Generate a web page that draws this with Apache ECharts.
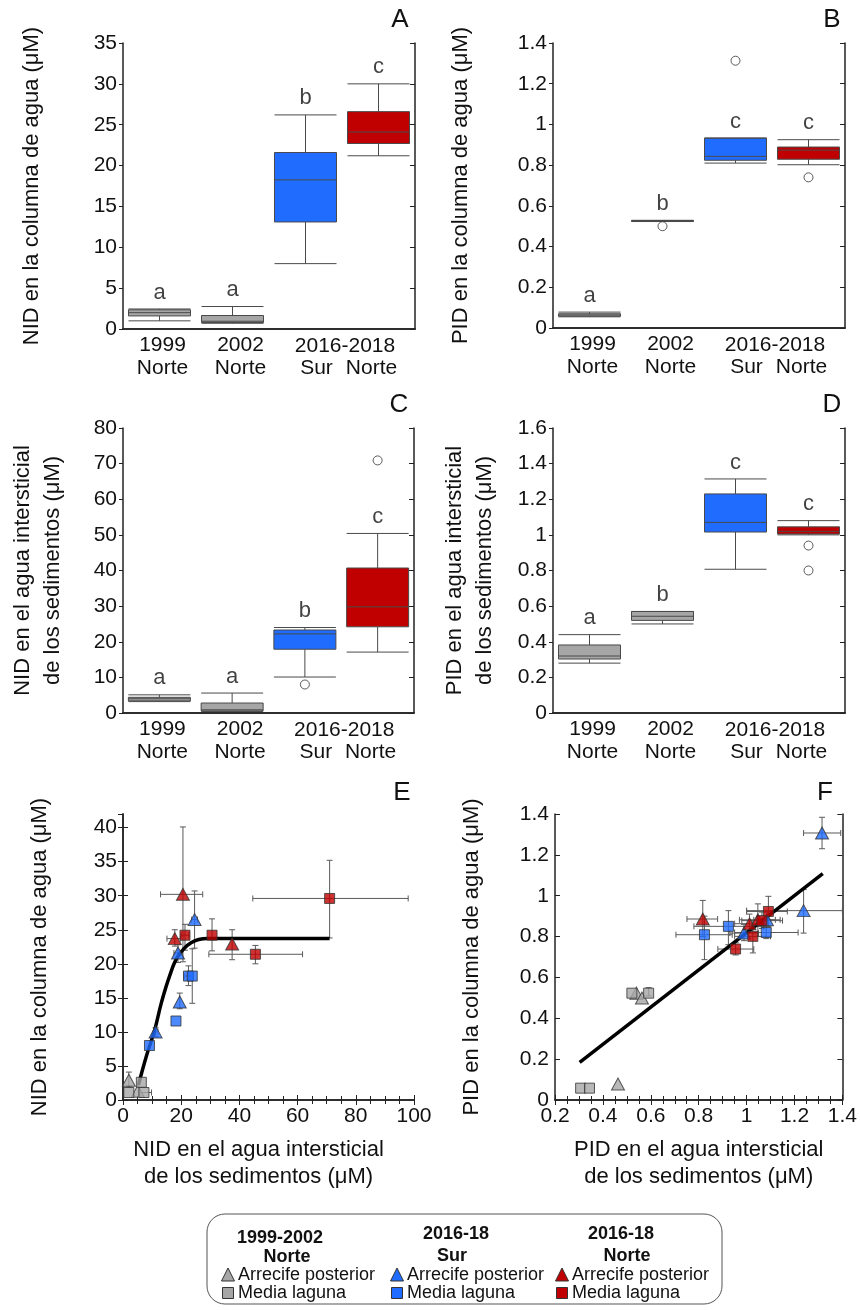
<!DOCTYPE html>
<html>
<head>
<meta charset="utf-8">
<script src="https://cdn.jsdelivr.net/npm/echarts@6/dist/echarts.min.js"></script>
<style>
  html, body { margin: 0; padding: 0; background: #fff; }
  #chart { width: 860px; height: 1310px; }
</style>
</head>
<body>
<div id="chart"></div>
<script>
const FONT = "'Liberation Sans', Arial, Helvetica, sans-serif";

// ---- Box-plot panels (A–D) ----
const boxCategories = ['1999\nNorte', '2002\nNorte', '\nSur', '\nNorte'];
const periodLabel = '2016-2018';
const boxFills = ['#a6a6a6', '#a6a6a6', '#1f6cff', '#c00000'];

// each box: [min, Q1, median, Q3, max]
const nidWaterBoxes = [[1.0, 1.6, 2.0, 2.35, 2.45], [0.7, 0.8, 0.95, 1.65, 2.75], [8.0, 13.1, 18.25, 21.6, 26.2], [21.2, 22.7, 24.1, 26.6, 30.0]];
const nidWaterOutliers = [];
const nidWaterLetters = ['a', 'a', 'b', 'c'];

const pidWaterBoxes = [[0.055, 0.058, 0.064, 0.07, 0.078], [0.523, 0.524, 0.526, 0.528, 0.529], [0.81, 0.824, 0.843, 0.933, 0.933], [0.802, 0.829, 0.874, 0.889, 0.925]];
const pidWaterOutliers = [[1, 0.50], [2, 1.313], [3, 0.74]];
const pidWaterLetters = ['a', 'b', 'c', 'c'];

const nidSedBoxes = [[3.2, 3.4, 4.0, 4.4, 5.1], [0.4, 0.6, 0.9, 2.8, 5.6], [10.1, 17.9, 22.2, 23.3, 24.0], [17.1, 24.2, 29.8, 40.7, 50.4]];
const nidSedOutliers = [[2, 8.0], [3, 70.9]];
const nidSedLetters = ['a', 'a', 'b', 'c'];

const pidSedBoxes = [[0.28, 0.303, 0.32, 0.382, 0.44], [0.50, 0.52, 0.543, 0.57, 0.57], [0.807, 1.016, 1.07, 1.23, 1.314], [1.0, 1.005, 1.02, 1.045, 1.08]];
const pidSedOutliers = [[3, 0.94], [3, 0.80]];
const pidSedLetters = ['a', 'b', 'c', 'c'];

// ---- Scatter panels (E–F): [x, y, xLow, xHigh, yLow, yHigh] ----
const nidGrayReef = [[2.0, 2.9, 2.0, 2.0, 1.9, 4.1], [5.1, 1.3, 5.1, 5.1, 1.3, 1.3]];
const nidGrayLagoon = [[6.3, 2.6, 6.3, 6.3, 2.6, 2.6], [2.0, 1.1, 2.0, 2.0, 1.1, 1.1], [7.2, 1.1, 5.5, 9.8, 1.1, 1.1]];
const nidBlueReef = [[11.2, 10.0, 10.5, 12.0, 9.3, 10.6], [18.9, 21.6, 17.5, 20.3, 20.2, 22.8], [19.5, 14.4, 19.5, 19.5, 13.4, 15.7], [24.6, 26.5, 23.6, 25.6, 22.3, 30.7]];
const nidBlueLagoon = [[9.1, 8.0, 9.1, 9.1, 8.0, 8.0], [18.2, 11.6, 18.2, 18.2, 11.6, 11.6], [22.5, 18.2, 21.0, 24.0, 16.8, 19.7], [23.8, 18.2, 23.8, 23.8, 14.2, 22.2]];
const nidRedReef = [[20.6, 30.2, 12.9, 27.4, 20.3, 40.1], [17.8, 23.7, 15.1, 19.8, 22.6, 25.0], [37.5, 22.9, 37.5, 37.5, 20.6, 25.0]];
const nidRedLagoon = [[21.3, 24.2, 20.0, 22.6, 22.0, 25.8], [30.6, 24.2, 30.6, 30.6, 21.9, 26.6], [45.5, 21.4, 29.5, 61.7, 20.0, 22.7], [71.0, 29.6, 44.6, 98.0, 23.8, 35.2]];
const nidFitCurve = [[5.3, 2.2], [8.0, 6.4], [10.9, 10.3], [13.2, 14.3], [16.0, 18.2], [18.9, 21.1], [23.4, 23.1], [29.1, 23.7], [45, 23.7], [71, 23.7]];

const pidGrayReef = [[0.463, 0.078, 0.463, 0.463, 0.078, 0.078], [0.54, 0.523, 0.54, 0.54, 0.523, 0.523], [0.563, 0.499, 0.563, 0.563, 0.499, 0.499]];
const pidGrayLagoon = [[0.307, 0.058, 0.307, 0.307, 0.058, 0.058], [0.344, 0.058, 0.344, 0.344, 0.058, 0.058], [0.521, 0.523, 0.521, 0.521, 0.523, 0.523], [0.591, 0.523, 0.591, 0.591, 0.51, 0.55]];
const pidBlueReef = [[1.315, 1.307, 1.238, 1.393, 1.23, 1.384], [1.238, 0.927, 1.0, 1.40, 0.817, 1.03], [0.989, 0.817, 0.93, 1.05, 0.78, 0.86], [1.085, 0.882, 1.03, 1.14, 0.85, 0.92]];
const pidBlueLagoon = [[0.924, 0.85, 0.78, 1.07, 0.76, 0.927], [0.824, 0.809, 0.705, 0.94, 0.687, 0.9], [1.082, 0.82, 0.95, 1.215, 0.79, 0.85]];
const pidRedReef = [[0.817, 0.886, 0.751, 0.879, 0.80, 0.977], [1.012, 0.863, 0.95, 1.07, 0.82, 0.91], [1.047, 0.882, 0.97, 1.12, 0.80, 0.96]];
const pidRedLagoon = [[1.091, 0.923, 1.0, 1.17, 0.85, 0.997], [1.064, 0.878, 0.98, 1.15, 0.84, 0.92], [1.026, 0.801, 0.95, 1.1, 0.72, 0.88], [0.954, 0.739, 0.88, 1.03, 0.71, 0.77]];
const pidFitLine = [[0.303, 0.184], [1.318, 1.108]];

const GRAY = '#a6a6a6', BLUE = '#1f6cff', RED = '#c00000';
const AXIS_COLOR = '#222';
const TXT = '#111';

const boxPanels = [
  { tag: 'A', grid: { left: 123, top: 43, width: 292, height: 286 }, max: 35, interval: 5, boxes: nidWaterBoxes, outliers: nidWaterOutliers, letters: nidWaterLetters,
    title: 'NID en la columna de agua (μM)', nameGap: 76, tagPos: [400, 20] },
  { tag: 'B', grid: { left: 553, top: 43, width: 292, height: 285 }, max: 1.4, interval: 0.2, boxes: pidWaterBoxes, outliers: pidWaterOutliers, letters: pidWaterLetters,
    title: 'PID en la columna de agua (μM)', nameGap: 77, tagPos: [832, 20] },
  { tag: 'C', grid: { left: 123, top: 428, width: 291, height: 285 }, max: 80, interval: 10, boxes: nidSedBoxes, outliers: nidSedOutliers, letters: nidSedLetters,
    title: 'NID en el agua intersticial\nde los sedimentos (μM)', nameGap: 55, tagPos: [399, 405] },
  { tag: 'D', grid: { left: 553, top: 428, width: 292, height: 285 }, max: 1.6, interval: 0.2, boxes: pidSedBoxes, outliers: pidSedOutliers, letters: pidSedLetters,
    title: 'PID en el agua intersticial\nde los sedimentos (μM)', nameGap: 53, tagPos: [832, 405] }
];

const scatterPanels = [
  { tag: 'E', grid: { left: 123, top: 814, width: 291, height: 286 }, x: { min: 0, max: 100, interval: 20 }, y: { min: 0, max: 42, interval: 5 },
    yTitle: 'NID en la columna de agua (μM)', xTitle: 'NID en el agua intersticial\nde los sedimentos (μM)', xPad: [0, 20, 0, 0], tagPos: [402, 793],
    groups: [[nidGrayReef, 'triangle', GRAY], [nidGrayLagoon, 'rect', GRAY], [nidBlueReef, 'triangle', BLUE], [nidBlueLagoon, 'rect', BLUE], [nidRedReef, 'triangle', RED], [nidRedLagoon, 'rect', RED]],
    fit: nidFitCurve, smooth: 0.4 },
  { tag: 'F', grid: { left: 555, top: 814, width: 290, height: 286 }, x: { min: 0.2, max: 1.4, interval: 0.2 }, y: { min: 0, max: 1.4, interval: 0.2 },
    yTitle: 'PID en la columna de agua (μM)', xTitle: 'PID en el agua intersticial\nde los sedimentos (μM)', xPad: [0, 0, 0, 0], tagPos: [825, 793],
    groups: [[pidGrayReef, 'triangle', GRAY], [pidGrayLagoon, 'rect', GRAY], [pidBlueReef, 'triangle', BLUE], [pidBlueLagoon, 'rect', BLUE], [pidRedReef, 'triangle', RED], [pidRedLagoon, 'rect', RED]],
    fit: pidFitLine, smooth: false }
];

const lineStyleAxis = { show: true, lineStyle: { color: AXIS_COLOR, width: 1.5 } };
const tickLabel = { fontSize: 21, color: TXT, fontFamily: FONT };

// horizontal nudges of the category labels (left/right padding, px)
const catLabelPad = [[0, 0, 0, 6], [0, 0, 0, 16], [0, 0, 0, 22], [0, 14, 0, 0]];
const catRich = {};
catLabelPad.forEach((pad, i) => {
  catRich['c' + i] = { fontSize: 21, color: TXT, fontFamily: FONT, lineHeight: 23, padding: pad };
});

const option = {
  animation: false,
  textStyle: { fontFamily: FONT },
  grid: [], xAxis: [], yAxis: [], series: [], graphic: []
};

boxPanels.forEach((p, gi) => {
  option.grid.push(p.grid);
  const xi = option.xAxis.length, yi = option.yAxis.length;
  option.xAxis.push({
    type: 'category', gridIndex: gi, data: boxCategories, boundaryGap: true,
    axisLine: lineStyleAxis, axisTick: { show: false },
    axisLabel: Object.assign({
      interval: 0, margin: 5, lineHeight: 23, rich: catRich,
      formatter: (v, idx) => v.split('\n').map((s) => (s ? '{c' + idx + '|' + s + '}' : '')).join('\n')
    }, tickLabel)
  });
  option.xAxis.push({
    type: 'category', gridIndex: gi, position: 'top', data: boxCategories,
    axisLine: lineStyleAxis, axisTick: { show: false }, axisLabel: { show: false }
  });
  option.yAxis.push({
    type: 'value', gridIndex: gi, min: 0, max: p.max, interval: p.interval,
    splitLine: { show: false }, axisLine: lineStyleAxis,
    axisTick: { show: true, inside: false, length: 4, lineStyle: { color: AXIS_COLOR } },
    axisLabel: Object.assign({ margin: 6 }, tickLabel),
    name: p.title, nameLocation: 'middle', nameGap: p.nameGap,
    nameTextStyle: { fontSize: 22, color: TXT, lineHeight: 30, fontFamily: FONT }
  });
  option.yAxis.push({
    type: 'value', gridIndex: gi, position: 'right', min: 0, max: p.max, interval: p.interval,
    splitLine: { show: false }, axisLine: lineStyleAxis,
    axisTick: { show: true, inside: true, length: 5, lineStyle: { color: AXIS_COLOR } },
    axisLabel: { show: false }
  });
  option.series.push({
    type: 'boxplot', xAxisIndex: xi, yAxisIndex: yi, boxWidth: [62, 62],
    data: p.boxes.map((b, k) => ({ value: b, itemStyle: { color: boxFills[k], borderColor: '#4a4a4a', borderWidth: 1 } }))
  });
  option.series.push({
    type: 'scatter', xAxisIndex: xi, yAxisIndex: yi, symbol: 'circle', symbolSize: 9,
    itemStyle: { color: '#fff', borderColor: '#333', borderWidth: 1 }, data: p.outliers, z: 5
  });
  option.series.push({
    type: 'scatter', xAxisIndex: xi, yAxisIndex: yi, symbolSize: 1,
    itemStyle: { color: 'transparent' },
    label: { show: true, position: 'top', distance: 5, fontSize: 22, color: TXT, fontFamily: FONT,
      formatter: (d) => p.letters[d.dataIndex] },
    data: p.boxes.map((b, k) => [k, b[4]])
  });
  option.graphic.push({ type: 'text', x: p.tagPos[0], y: p.tagPos[1],
    style: { text: p.tag, fontSize: 26, fontFamily: FONT, fill: TXT, align: 'center', verticalAlign: 'middle' } });
});

function renderErrorBars(params, api) {
  const x = api.value(0), y = api.value(1);
  const xl = api.value(2), xh = api.value(3), yl = api.value(4), yh = api.value(5);
  const cap = 3;
  const style = { stroke: '#5a5a5a', lineWidth: 1 };
  const kids = [];
  if (xh > xl) {
    const a = api.coord([xl, y]), b = api.coord([xh, y]);
    kids.push({ type: 'line', shape: { x1: a[0], y1: a[1], x2: b[0], y2: b[1] }, style });
    kids.push({ type: 'line', shape: { x1: a[0], y1: a[1] - cap, x2: a[0], y2: a[1] + cap }, style });
    kids.push({ type: 'line', shape: { x1: b[0], y1: b[1] - cap, x2: b[0], y2: b[1] + cap }, style });
  }
  if (yh > yl) {
    const a = api.coord([x, yl]), b = api.coord([x, yh]);
    kids.push({ type: 'line', shape: { x1: a[0], y1: a[1], x2: b[0], y2: b[1] }, style });
    kids.push({ type: 'line', shape: { x1: a[0] - cap, y1: a[1], x2: a[0] + cap, y2: a[1] }, style });
    kids.push({ type: 'line', shape: { x1: b[0] - cap, y1: b[1], x2: b[0] + cap, y2: b[1] }, style });
  }
  return { type: 'group', children: kids };
}

scatterPanels.forEach((p) => {
  const gi = option.grid.length;
  option.grid.push(p.grid);
  const xi = option.xAxis.length, yi = option.yAxis.length;
  const tickIn = { show: true, inside: true, length: 5, lineStyle: { color: AXIS_COLOR } };
  const minor = { show: true, splitNumber: 4, length: 4, lineStyle: { color: AXIS_COLOR } };
  option.xAxis.push({
    type: 'value', gridIndex: gi, min: p.x.min, max: p.x.max, interval: p.x.interval,
    splitLine: { show: false }, minorSplitLine: { show: false }, axisLine: lineStyleAxis, axisTick: tickIn, minorTick: minor,
    axisLabel: Object.assign({ margin: 6 }, tickLabel),
    name: p.xTitle, nameLocation: 'middle', nameGap: 36,
    nameTextStyle: { fontSize: 22, color: TXT, lineHeight: 27, fontFamily: FONT, padding: p.xPad }
  });
  option.xAxis.push({
    type: 'value', gridIndex: gi, position: 'top', min: p.x.min, max: p.x.max, interval: p.x.interval,
    splitLine: { show: false }, axisLine: lineStyleAxis, axisTick: tickIn, minorTick: minor, axisLabel: { show: false }
  });
  option.yAxis.push({
    type: 'value', gridIndex: gi, min: p.y.min, max: p.y.max, interval: p.y.interval,
    splitLine: { show: false }, axisLine: lineStyleAxis, axisTick: tickIn,
    axisLabel: Object.assign({ margin: 6, showMaxLabel: p.y.max === 1.4 }, tickLabel),
    name: p.yTitle, nameLocation: 'middle', nameGap: 72,
    nameTextStyle: { fontSize: 22, color: TXT, fontFamily: FONT }
  });
  option.yAxis.push({
    type: 'value', gridIndex: gi, position: 'right', min: p.y.min, max: p.y.max, interval: p.y.interval,
    splitLine: { show: false }, axisLine: lineStyleAxis, axisTick: tickIn, axisLabel: { show: false }
  });
  // error bars first so markers sit on top
  p.groups.forEach((g) => {
    option.series.push({
      type: 'custom', xAxisIndex: xi, yAxisIndex: yi, renderItem: renderErrorBars,
      encode: { x: 0, y: 1 }, data: g[0], z: 2, clip: false
    });
  });
  option.series.push({
    type: 'line', xAxisIndex: xi, yAxisIndex: yi, data: p.fit, showSymbol: false, symbol: 'none',
    smooth: p.smooth, lineStyle: { color: '#000', width: 3.5 }, z: 3
  });
  p.groups.forEach((g) => {
    option.series.push({
      type: 'scatter', xAxisIndex: xi, yAxisIndex: yi, symbol: g[1], symbolSize: g[1] === 'rect' ? 10 : [13, 12],
      itemStyle: { color: g[2], borderColor: '#333', borderWidth: 1 },
      data: g[0].map((r) => [r[0], r[1]]), z: 4
    });
  });
  option.graphic.push({ type: 'text', x: p.tagPos[0], y: p.tagPos[1],
    style: { text: p.tag, fontSize: 26, fontFamily: FONT, fill: TXT, align: 'center', verticalAlign: 'middle' } });
});

// ---- Legend box ----
const legendColumns = [
  { head: ['1999-2002', 'Norte'], headX: [280, 287], color: GRAY, symX: 228 },
  { head: ['2016-18', 'Sur'], headX: [456, 452], color: BLUE, symX: 397 },
  { head: ['2016-18', 'Norte'], headX: [621, 627], color: RED, symX: 562 }
];
const legendItems = ['Arrecife posterior', 'Media laguna'];

option.graphic.push({ type: 'rect', shape: { x: 207, y: 1214, width: 515, height: 90, r: 18 },
  style: { fill: '#fff', stroke: '#555', lineWidth: 1 }, z: 0 });
legendColumns.forEach((c, i) => {
  const headY = i === 0 ? [1238, 1257] : [1234, 1256];
  c.head.forEach((h, j) => {
    option.graphic.push({ type: 'text', x: c.headX[j], y: headY[j], z: 10,
      style: { text: h, fontSize: 18, fontWeight: 'bold', fontFamily: FONT, fill: TXT, align: 'center', verticalAlign: 'middle' } });
  });
  const sx = c.symX;
  option.graphic.push({ type: 'polygon', z: 10, shape: { points: [[sx, 1268], [sx - 6.5, 1281], [sx + 6.5, 1281]] },
    style: { fill: c.color, stroke: '#333', lineWidth: 1 } });
  option.graphic.push({ type: 'rect', z: 10, shape: { x: sx - 5.5, y: 1287.5, width: 11, height: 11 },
    style: { fill: c.color, stroke: '#333', lineWidth: 1 } });
  legendItems.forEach((t, j) => {
    option.graphic.push({ type: 'text', x: sx + 10, y: j === 0 ? 1275 : 1293, z: 10,
      style: { text: t, fontSize: 18, fontFamily: FONT, fill: TXT, align: 'left', verticalAlign: 'middle' } });
  });
});

const chart = echarts.init(document.getElementById('chart'), null, { renderer: 'canvas' });
chart.setOption(option);

// shared "2016-2018" heading under the last two boxes of each box panel
const periodTexts = [];
boxPanels.forEach((p, gi) => {
  const xa = chart.convertToPixel({ xAxisIndex: gi * 2 }, 2);
  const xb = chart.convertToPixel({ xAxisIndex: gi * 2 }, 3);
  const y0 = chart.convertToPixel({ yAxisIndex: gi * 2 }, 0);
  periodTexts.push({ type: 'text', x: (xa + xb) / 2 + 3, y: y0 + 17,
    style: { text: periodLabel, fontSize: 21, fontFamily: FONT, fill: TXT, align: 'center', verticalAlign: 'middle' } });
});
chart.setOption({ graphic: option.graphic.concat(periodTexts) });
</script>
</body>
</html>
